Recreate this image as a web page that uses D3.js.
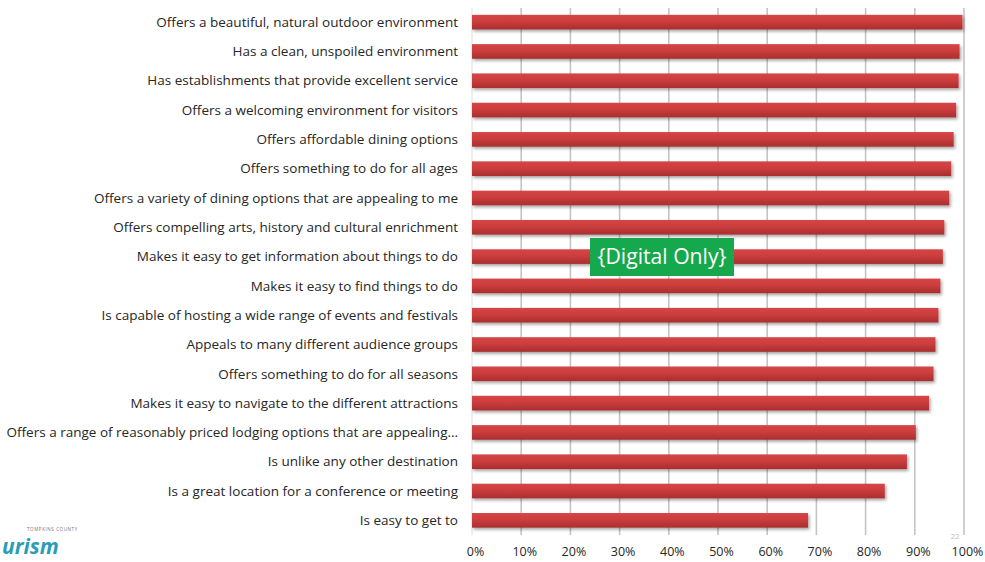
<!DOCTYPE html>
<html>
<head>
<meta charset="utf-8">
<script src="https://cdn.jsdelivr.net/npm/d3@7"></script>
<style>
  html, body { margin: 0; padding: 0; background: #fff; }
  svg { display: block; }
</style>
</head>
<body>
<svg id="chart" width="985" height="562"></svg>
<script>
// Destination attributes, top to bottom, with share of respondents agreeing (%)
const categories = [
  "Offers a beautiful, natural outdoor environment",
  "Has a clean, unspoiled environment",
  "Has establishments that provide excellent service",
  "Offers a welcoming environment for visitors",
  "Offers affordable dining options",
  "Offers something to do for all ages",
  "Offers a variety of dining options that are appealing to me",
  "Offers compelling arts, history and cultural enrichment",
  "Makes it easy to get information about things to do",
  "Makes it easy to find things to do",
  "Is capable of hosting a wide range of events and festivals",
  "Appeals to many different audience groups",
  "Offers something to do for all seasons",
  "Makes it easy to navigate to the different attractions",
  "Offers a range of reasonably priced lodging options that are appealing…",
  "Is unlike any other destination",
  "Is a great location for a conference or meeting",
  "Is easy to get to"
];
const values = [99.7, 99.1, 98.9, 98.4, 97.9, 97.4, 97.0, 96.0, 95.7, 95.2, 94.8, 94.2, 93.8, 92.9, 90.2, 88.4, 83.9, 68.3];
const tickValues = [0, 10, 20, 30, 40, 50, 60, 70, 80, 90, 100];
const tickLabels = ["0%", "10%", "20%", "30%", "40%", "50%", "60%", "70%", "80%", "90%", "100%"];
const badgeText = "{Digital Only}";

const svg = d3.select("#chart");
const font = "'Open Sans', Lato, sans-serif";

const x = d3.scaleLinear().domain([0, 100]).range([472, 964]);
const y = d3.scaleBand().domain(categories).range([7.5, 535]).paddingInner(0.5).paddingOuter(0.25);

const defs = svg.append("defs");
const grad = defs.append("linearGradient").attr("id", "barGrad")
  .attr("x1", 0).attr("y1", 0).attr("x2", 0).attr("y2", 1);
grad.append("stop").attr("offset", "0%").attr("stop-color", "#d64646");
grad.append("stop").attr("offset", "45%").attr("stop-color", "#cc3d3d");
grad.append("stop").attr("offset", "100%").attr("stop-color", "#a82e2e");
const shadow = defs.append("filter").attr("id", "barShadow")
  .attr("x", "-5%").attr("y", "-40%").attr("width", "110%").attr("height", "200%");
shadow.append("feDropShadow").attr("dx", 1.5).attr("dy", 2).attr("stdDeviation", 1.4)
  .attr("flood-color", "#000").attr("flood-opacity", 0.35);

// vertical gridlines
svg.append("g").selectAll("line").data(tickValues.slice(1)).join("line")
  .attr("x1", d => x(d)).attr("x2", d => x(d))
  .attr("y1", 8).attr("y2", 535)
  .attr("stroke", "#c4c4c4").attr("stroke-width", 1.6);

// baseline
svg.append("line").attr("x1", x(0)).attr("x2", x(0)).attr("y1", 8).attr("y2", 535)
  .attr("stroke", "#dfe6ee").attr("stroke-width", 1.2);

// bars
svg.append("g").selectAll("rect").data(values).join("rect")
  .attr("x", x(0))
  .attr("y", (d, i) => y(categories[i]))
  .attr("width", d => x(d) - x(0))
  .attr("height", y.bandwidth())
  .attr("fill", "url(#barGrad)")
  .attr("filter", "url(#barShadow)");

// category labels, sized so the first spans ~306px and the lodging one ~446px
const labels = svg.append("g").selectAll("text").data(categories).join("text")
  .attr("x", 458)
  .attr("y", d => y(d) + y.bandwidth() / 2)
  .attr("dy", "0.35em")
  .attr("text-anchor", "end")
  .attr("font-family", font)
  .attr("font-size", 13)
  .attr("fill", "#262626")
  .text(d => d);
const nodes = labels.nodes();
const fitA = 13 * 306 / nodes[0].getComputedTextLength();
const fitB = 13 * 446 / nodes[14].getComputedTextLength();
labels.attr("font-size", (fitA + fitB) / 2);

// x axis labels
const xAxis = d3.axisBottom(x).tickValues(tickValues)
  .tickFormat((d, i) => tickLabels[i]).tickSize(0).tickPadding(0);
const ax = svg.append("g").attr("transform", "translate(3,547)").call(xAxis);
ax.select(".domain").remove();
ax.selectAll("text").attr("font-family", font).attr("font-size", 12.5).attr("fill", "#262626");

// page number
svg.append("text").attr("x", 955).attr("y", 539).attr("text-anchor", "middle")
  .attr("font-family", font).attr("font-size", 8).attr("fill", "#c0c0c0").text("22");

// badge
const badge = svg.append("g").attr("transform", "translate(590,238)");
badge.append("rect").attr("width", 144).attr("height", 38).attr("fill", "#15a84c");
const bt = badge.append("text").attr("x", 72).attr("y", 19).attr("dy", "0.35em")
  .attr("text-anchor", "middle").attr("font-family", font).attr("font-size", 18)
  .attr("fill", "#ffffff").text(badgeText);
bt.attr("font-size", 18 * 129 / bt.node().getComputedTextLength());

// logo fragment at lower left
svg.append("text").attr("x", 27).attr("y", 531).attr("font-family", font)
  .attr("font-size", 4.5).attr("fill", "#8a6a6a").attr("letter-spacing", 0.6).text("TOMPKINS COUNTY");
svg.append("text").attr("x", 2).attr("y", 554).attr("font-family", font)
  .attr("font-size", 21).attr("font-style", "italic").attr("font-weight", 700)
  .attr("fill", "#2a9db5").text("urism");
</script>
</body>
</html>
